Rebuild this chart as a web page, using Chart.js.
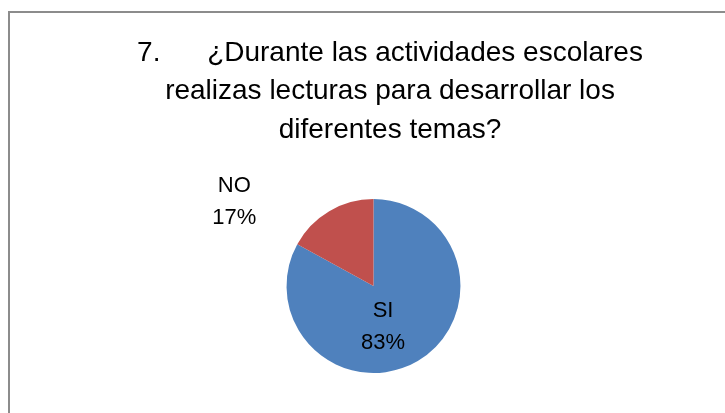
<!DOCTYPE html>
<html>
<head>
<meta charset="utf-8">
<script src="https://cdn.jsdelivr.net/npm/chart.js@4/dist/chart.umd.min.js"></script>
<style>
html,body{margin:0;padding:0;background:#fff;overflow:hidden;}
#wrap{position:relative;width:725px;height:413px;}
</style>
</head>
<body>
<div id="wrap"><canvas id="c" width="725" height="413"></canvas></div>
<script>
const categories = ['SI', 'NO'];
const values = [83, 17];
const percentLabels = ['83%', '17%'];
const titleLines = [
  '7.      \u00BFDurante las actividades escolares',
  'realizas lecturas para desarrollar los',
  'diferentes temas?'
];
const colors = ['#4F81BD', '#C0504D'];

// label placement relative to pie center, in units of radius
const labelOffsets = [[0.11, 0.47], [-1.6, -0.97]];

const framePlugin = {
  id: 'frame',
  beforeDraw(chart) {
    const ctx = chart.ctx;
    ctx.save();
    ctx.fillStyle = '#fff';
    ctx.fillRect(0, 0, chart.width, chart.height);
    ctx.fillStyle = '#8c8c8c';
    ctx.fillRect(8, 11, 2, chart.height);
    ctx.fillRect(8, 11, chart.width, 2);
    ctx.restore();
  }
};

// empty layout box on the right so the plot area sits left of the title's centre
const spacerPlugin = {
  id: 'spacer',
  beforeInit(chart) {
    const box = {
      position: 'right', weight: 0, fullSize: false,
      options: {},
      left: 0, top: 0, right: 0, bottom: 0, width: 0, height: 0,
      isHorizontal() { return false; },
      getPadding() { return {top: 0, left: 0, right: 0, bottom: 0}; },
      update(maxWidth, maxHeight) { this.width = 33; this.height = maxHeight; return {width: 33, height: maxHeight}; },
      draw() {}
    };
    Chart.layouts.addBox(chart, box);
  }
};

const labelPlugin = {
  id: 'sliceLabels',
  afterDatasetsDraw(chart) {
    const ctx = chart.ctx;
    const meta = chart.getDatasetMeta(0);
    ctx.save();
    ctx.font = '22px "Liberation Sans", Arial, sans-serif';
    ctx.fillStyle = '#000';
    ctx.textAlign = 'center';
    ctx.textBaseline = 'middle';
    meta.data.forEach((arc, i) => {
      const p = arc.getProps(['x', 'y', 'outerRadius'], true);
      const cx = p.x + labelOffsets[i][0] * p.outerRadius;
      const cy = p.y + labelOffsets[i][1] * p.outerRadius;
      ctx.fillText(categories[i], cx, cy - 16);
      ctx.fillText(percentLabels[i], cx, cy + 16);
    });
    ctx.restore();
  }
};

new Chart(document.getElementById('c'), {
  type: 'pie',
  data: {
    labels: categories,
    datasets: [{
      data: values,
      backgroundColor: colors,
      borderWidth: 0
    }]
  },
  options: {
    responsive: false,
    animation: false,
    layout: { padding: { left: 55, right: 0, top: 0, bottom: 40 } },
    plugins: {
      legend: { display: false },
      tooltip: { enabled: false },
      title: {
        display: true,
        text: titleLines,
        color: '#000',
        font: { family: '"Liberation Sans", Arial, sans-serif', size: 28, weight: 'normal', lineHeight: 1.37 },
        padding: { top: 34, bottom: 50 }
      }
    }
  },
  plugins: [framePlugin, spacerPlugin, labelPlugin]
});
</script>
</body>
</html>
